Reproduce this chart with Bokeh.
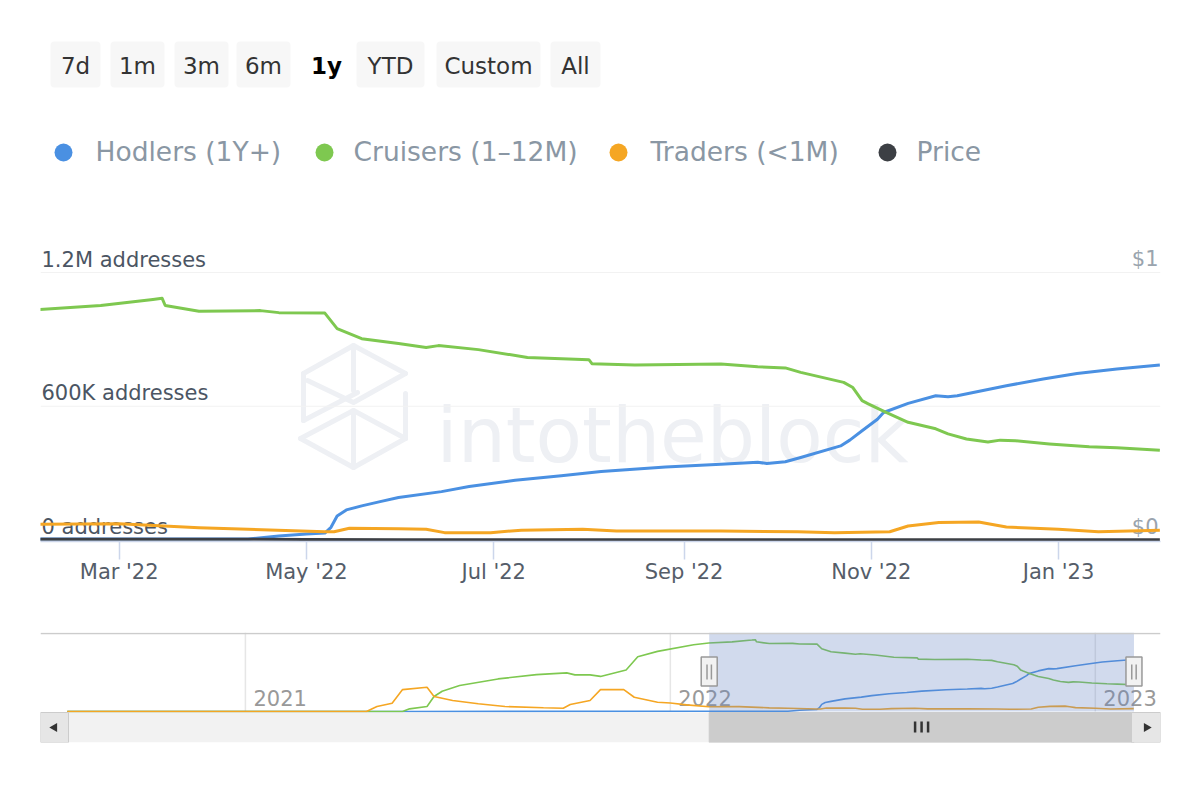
import datetime as dt
import math
from bokeh.plotting import figure
from bokeh.layouts import column
from bokeh.models import Range1d, FixedTicker
from bokeh.core.properties import value
from bokeh.embed import file_html
from bokeh.resources import INLINE


def D(s):
    return dt.datetime.strptime(s, "%Y-%m-%d")


FONT = value("DejaVu Sans")

# ---------------- data ----------------
range_buttons = ["7d", "1m", "3m", "6m", "1y", "YTD", "Custom", "All"]
selected_button = "1y"
series_names = ["Hodlers (1Y+)", "Cruisers (1\u201312M)", "Traders (<1M)", "Price"]
series_colors = ["#4a90e2", "#7ec850", "#f5a623", "#3c3f44"]

hodlers_dates = ["2020-08-01", "2021-05-16", "2022-02-03", "2022-04-12", "2022-04-22", "2022-05-01",
                 "2022-05-07", "2022-05-09", "2022-05-11", "2022-05-14", "2022-05-19", "2022-05-25",
                 "2022-05-31", "2022-06-14", "2022-06-23", "2022-07-08", "2022-07-23", "2022-08-05",
                 "2022-08-26", "2022-09-13", "2022-09-25", "2022-09-28", "2022-10-04", "2022-10-09",
                 "2022-10-22", "2022-10-25", "2022-10-29", "2022-11-03", "2022-11-05", "2022-11-13",
                 "2022-11-22", "2022-11-26", "2022-11-29", "2022-12-15", "2022-12-27", "2023-01-07",
                 "2023-01-20", "2023-02-03"]
hodlers_values = [0, 0, 4000, 4000, 18000, 27000,
                  31000, 57000, 108000, 135000, 153000, 172000,
                  191000, 217000, 240000, 268000, 288000, 307000,
                  328000, 340000, 349000, 343000, 351000, 370000,
                  422000, 448000, 490000, 542000, 572000, 613000,
                  647000, 643000, 647000, 692000, 722000, 747000,
                  767000, 785000]

cruisers_dates = ["2020-08-01", "2021-05-16", "2021-05-22", "2021-06-06", "2021-06-12", "2021-06-19",
                  "2021-07-04", "2021-08-06", "2021-09-08", "2021-10-04", "2021-10-11", "2021-10-24",
                  "2021-11-02", "2021-11-24", "2021-12-04", "2021-12-21", "2022-01-21",
                  "2022-02-03", "2022-02-23", "2022-03-12", "2022-03-15", "2022-03-16", "2022-03-27",
                  "2022-04-16", "2022-04-22", "2022-05-07", "2022-05-11", "2022-05-19", "2022-05-31",
                  "2022-06-09", "2022-06-13", "2022-06-26", "2022-07-12", "2022-08-01", "2022-08-02",
                  "2022-08-16", "2022-09-13", "2022-09-25", "2022-10-04", "2022-10-09", "2022-10-23",
                  "2022-10-26", "2022-10-29", "2022-10-31", "2022-11-06", "2022-11-13", "2022-11-22",
                  "2022-11-26", "2022-12-02", "2022-12-09", "2022-12-13", "2022-12-18", "2022-12-29",
                  "2023-01-11", "2023-01-20", "2023-02-03"]
cruisers_values = [0, 0, 40000, 75000, 226000, 306000,
                   392000, 492000, 557000, 583000, 553000, 553000,
                   530000, 628000, 828000, 908000, 1009000,
                   1034000, 1052000, 1079000, 1084000, 1052000, 1026000,
                   1029000, 1020000, 1018000, 948000, 903000, 881000,
                   864000, 872000, 854000, 819000, 809000, 791000,
                   785000, 790000, 777000, 772000, 752000, 707000,
                   684000, 625000, 611000, 571000, 528000, 499000,
                   476000, 453000, 440000, 448000, 445000, 431000,
                   418000, 414000, 403000]

traders_dates = ["2020-08-01", "2021-04-15", "2021-04-24", "2021-05-07", "2021-05-16", "2021-06-06",
                 "2021-06-12", "2021-06-28", "2021-07-20", "2021-08-12", "2021-09-14", "2021-10-01",
                 "2021-10-07", "2021-10-24", "2021-11-02", "2021-11-22", "2021-12-01", "2021-12-21",
                 "2022-01-01", "2022-01-15",
                 "2022-02-03", "2022-03-01", "2022-03-27", "2022-04-12", "2022-05-07", "2022-05-10",
                 "2022-05-15", "2022-05-31", "2022-06-09", "2022-06-15", "2022-06-30", "2022-07-10",
                 "2022-07-30", "2022-08-10", "2022-09-13", "2022-10-08", "2022-10-20", "2022-11-07",
                 "2022-11-13", "2022-11-23", "2022-12-06", "2022-12-10", "2022-12-15", "2023-01-01",
                 "2023-01-14", "2023-02-03"]
traders_values = [0, 0, 75000, 125000, 331000, 366000,
                  226000, 166000, 116000, 75000, 56000, 50000,
                  105000, 166000, 331000, 331000, 215000, 140000,
                  128000, 100000,
                  71000, 73000, 55000, 48000, 37000, 37000,
                  53000, 51000, 48000, 33000, 33000, 44000,
                  48000, 40000, 40000, 37000, 33000, 37000,
                  63000, 78000, 81000, 71000, 58000, 48000,
                  37000, 44000]

price_dates = ["2022-02-03", "2022-03-01", "2022-04-01", "2022-05-01", "2022-06-01", "2022-07-01",
               "2022-08-01", "2022-09-01", "2022-10-01", "2022-11-01", "2022-12-01", "2023-01-01",
               "2023-02-03"]
price_values = [0.0030, 0.0032, 0.0031, 0.0022, 0.0012, 0.0010,
                0.0011, 0.0010, 0.0009, 0.0008, 0.0006, 0.0005, 0.0006]

main_tick_dates = ["2022-03-01", "2022-05-01", "2022-07-01", "2022-09-01", "2022-11-01", "2023-01-01"]
main_tick_labels = ["Mar '22", "May '22", "Jul '22", "Sep '22", "Nov '22", "Jan '23"]
left_tick_values = [0, 600000, 1200000]
left_tick_labels = ["0 addresses", "600K addresses", "1.2M addresses"]
right_tick_values = [0, 1]
right_tick_labels = ["$0", "$1"]
nav_tick_dates = ["2021-01-01", "2022-01-01", "2023-01-01"]
nav_tick_labels = ["2021", "2022", "2023"]

MAIN_START = dt.datetime(2022, 2, 3, 9)
MAIN_END = dt.datetime(2023, 2, 3, 5)
NAV_START = dt.datetime(2020, 7, 9)
NAV_END = dt.datetime(2023, 2, 26)

EPOCH = dt.datetime(1970, 1, 1)


def ms(d):
    return (d - EPOCH).total_seconds() * 1000.0


series = [
    ([D(s) for s in hodlers_dates], hodlers_values),
    ([D(s) for s in cruisers_dates], cruisers_values),
    ([D(s) for s in traders_dates], traders_values),
]

# ---------------- top: range buttons + legend ----------------
# frame spans page x 40..1160 (aligned with the charts below), so the x range is in page pixels
top = figure(width=1200, height=200, x_range=Range1d(40, 1160), y_range=Range1d(200, 0),
             toolbar_location=None, output_backend="svg", x_axis_location=None,
             y_axis_location=None, min_border_left=40, min_border_right=40, min_border_top=0,
             min_border_bottom=0, outline_line_color=None)
top.grid.visible = False

button_boxes = [(50, 100), (110, 164), (174, 228), (236, 290), (300, 352), (356, 424), (436, 540), (550, 600)]
bx_l = [b[0] for b, lab in zip(button_boxes, range_buttons) if lab != selected_button]
bx_r = [b[1] for b, lab in zip(button_boxes, range_buttons) if lab != selected_button]
top.quad(left=bx_l, right=bx_r, top=41, bottom=87, fill_color="#f7f7f7", line_color=None,
         border_radius=4)
centers = [(b[0] + b[1]) / 2 for b in button_boxes]
normal = [(c, lab) for c, lab in zip(centers, range_buttons) if lab != selected_button]
top.text(x=[c for c, _ in normal], y=[65] * len(normal), text=[lab for _, lab in normal],
         text_align="center", text_baseline="middle", text_font=FONT, text_font_size="23px",
         text_color="#333333")
sel = [(c, lab) for c, lab in zip(centers, range_buttons) if lab == selected_button]
top.text(x=[c for c, _ in sel], y=[65] * len(sel), text=[lab for _, lab in sel],
         text_align="center", text_baseline="middle", text_font=FONT, text_font_size="23px",
         text_color="#000000", text_font_style="bold")

legend_marker_x = [63, 324, 618, 887]
legend_text_x = [95, 353, 650, 916]
top.scatter(x=legend_marker_x, y=[152] * 4, size=18, marker="circle", fill_color=series_colors,
            line_color=None)
top.text(x=legend_text_x, y=[151] * 4, text=series_names, text_align="left", text_baseline="middle",
         text_font=FONT, text_font_size="26.5px", text_color="#8a97a4")

# ---------------- main chart ----------------
main = figure(width=1200, height=410, x_axis_type="datetime", x_range=Range1d(MAIN_START, MAIN_END),
              y_range=Range1d(-6729, 1343552), toolbar_location=None, output_backend="svg",
              y_axis_location=None, min_border_left=40, min_border_right=40, min_border_top=40,
              min_border_bottom=69, outline_line_color=None)
main.grid.visible = False
main.extra_y_ranges = {"price": Range1d(-0.0056, 1.1196), "px": Range1d(541, 240)}
main.extra_x_ranges = {"px": Range1d(40, 1160)}

# watermark
logo_x = [[303, 353, 405], [353, 353], [303, 303], [307, 353, 405], [303, 357], [405, 405],
          [300, 353, 405], [300, 353, 405], [353, 353]]
logo_y = [[373, 345, 373], [345, 390], [373, 420], [380, 402, 373], [420, 392], [393, 438],
          [438, 410, 438], [438, 467, 438], [410, 467]]
main.multi_line(xs=logo_x, ys=logo_y, x_range_name="px", y_range_name="px", line_color="#eef0f4",
                line_width=5, line_join="round", line_cap="round")
main.text(x=[672], y=[435], text=["intotheblock"], x_range_name="px", y_range_name="px",
          text_align="center", text_baseline="alphabetic", text_font=FONT, text_font_size="76px",
          text_color="#eef0f4")

# grid lines
main.segment(x0=[MAIN_START] * 3, x1=[MAIN_END] * 3, y0=left_tick_values, y1=left_tick_values,
             line_color="#f2f2f2", line_width=1)

# axis labels inside plot
main.text(x=[MAIN_START] * 3, y=left_tick_values, text=left_tick_labels, x_offset=1, y_offset=-1,
          text_align="left", text_baseline="bottom", text_font=FONT, text_font_size="21px",
          text_color="#4b5563")
main.text(x=[MAIN_END] * 2, y=right_tick_values, text=right_tick_labels, x_offset=-2, y_offset=-1,
          y_range_name="price", text_align="right", text_baseline="bottom", text_font=FONT,
          text_font_size="21px", text_color="#9aa4ae")

for (xs, ys), col in zip(series, series_colors[:3]):
    main.line(x=xs, y=ys, line_color=col, line_width=3, line_join="round")
main.line(x=[D(s) for s in price_dates], y=price_values, y_range_name="price",
          line_color=series_colors[3], line_width=3)

ax = main.xaxis[0]
ax.ticker = FixedTicker(ticks=[ms(D(s)) for s in main_tick_dates])
ax.major_label_overrides = {ms(D(s)): lab for s, lab in zip(main_tick_dates, main_tick_labels)}
ax.axis_line_color = "#ccd6eb"
ax.axis_line_width = 1.5
ax.major_tick_line_color = "#ccd6eb"
ax.major_tick_line_width = 1.5
ax.major_tick_out = 18
ax.major_tick_in = 0
ax.minor_tick_line_color = None
ax.major_label_standoff = 0
ax.major_label_text_font = "DejaVu Sans"
ax.major_label_text_font_size = "21px"
ax.major_label_text_color = "#555d69"

# ---------------- navigator + scrollbar ----------------
nav = figure(width=1200, height=190, x_axis_type="datetime", x_range=Range1d(NAV_START, NAV_END),
             y_range=Range1d(-468100, 1192900), toolbar_location=None, output_backend="svg",
             x_axis_location=None, y_axis_location=None, min_border_left=40, min_border_right=40,
             min_border_top=22, min_border_bottom=58, outline_line_color=None)
nav.grid.visible = False
nav.extra_y_ranges = {"px": Range1d(742, 632)}
nav.extra_x_ranges = {"px": Range1d(40, 1160)}

nav_ticks = [D(s) for s in nav_tick_dates]
nav.segment(x0=nav_ticks, x1=nav_ticks, y0=[632] * 3, y1=[711] * 3, y_range_name="px",
            line_color="#e6e6e6", line_width=1.5)
nav.text(x=nav_ticks, y=[697] * 3, text=nav_tick_labels, y_range_name="px", x_offset=8,
         text_align="left", text_baseline="middle", text_font=FONT, text_font_size="21px",
         text_color="#999999")

for (xs, ys), col in zip(series, series_colors[:3]):
    nav.line(x=xs, y=ys, line_color=col, line_width=1.6)

# selected window
nav.quad(left=[MAIN_START], right=[MAIN_END], top=[632], bottom=[711], y_range_name="px",
         fill_color="#6685c2", fill_alpha=0.3, line_color=None)
# top border
nav.segment(x0=[40], x1=[1160], y0=[633], y1=[633], x_range_name="px", y_range_name="px",
            line_color="#cccccc", line_width=1.5)

# scrollbar
nav.quad(left=[40], right=[1160], top=[712], bottom=[742], x_range_name="px", y_range_name="px",
         fill_color="#f2f2f2", line_color=None)
nav.quad(left=[MAIN_START], right=[MAIN_END], top=[712], bottom=[742], y_range_name="px",
         fill_color="#cccccc", line_color="#cccccc", line_width=1)
nav.quad(left=[40, 1131], right=[68, 1160], top=[712, 712], bottom=[742, 742], x_range_name="px",
         y_range_name="px", fill_color="#e6e6e6", line_color="#cccccc", line_width=1)
nav.scatter(x=[54, 1146], y=[727, 727], x_range_name="px", y_range_name="px", marker="triangle",
            size=9, angle=[math.pi / 2, -math.pi / 2], fill_color="#333333", line_color=None)

mid = MAIN_START + (MAIN_END - MAIN_START) / 2
step = dt.timedelta(days=6.5 / 1.164)
grip_x = [mid - step, mid, mid + step]
nav.segment(x0=grip_x, x1=grip_x, y0=[721] * 3, y1=[732] * 3, y_range_name="px",
            line_color="#333333", line_width=2.5)

# handles
nav.rect(x=[MAIN_START, MAIN_END], y=[671, 671], width=16, height=29, width_units="screen",
         height_units="screen", y_range_name="px", fill_color="#f2f2f2", line_color="#999999",
         line_width=1.5)
off = dt.timedelta(days=2.2 / 1.164)
hx = [MAIN_START - off, MAIN_START + off, MAIN_END - off, MAIN_END + off]
nav.segment(x0=hx, x1=hx, y0=[664] * 4, y1=[679] * 4, y_range_name="px", line_color="#999999",
            line_width=1.5)

layout = column(top, main, nav, spacing=0)
open("out.html", "w").write(file_html(layout, INLINE))
